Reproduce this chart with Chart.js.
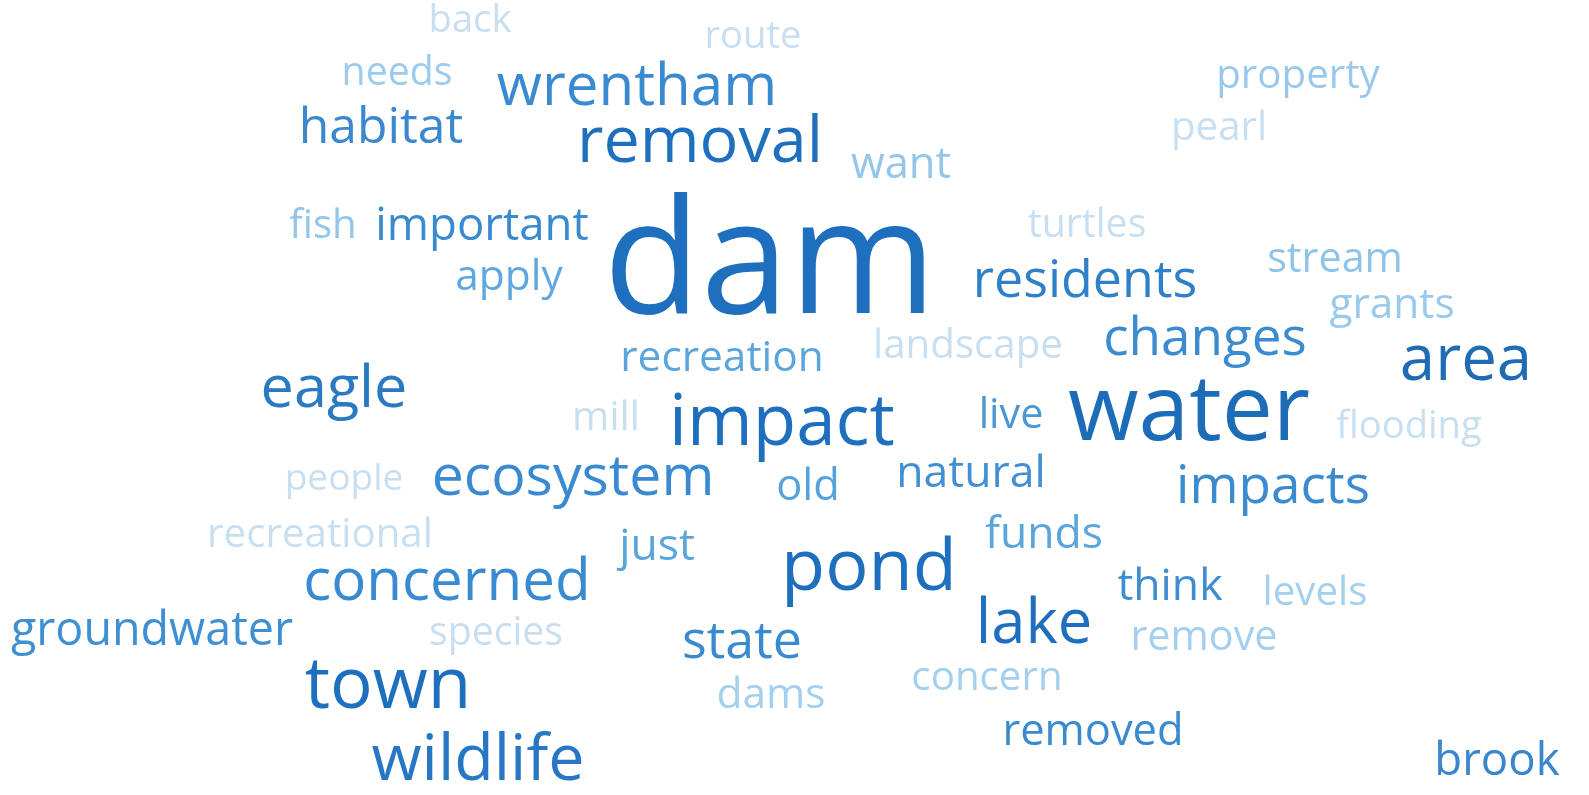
<!DOCTYPE html>
<html>
<head>
<meta charset="utf-8">
<script src="https://cdn.jsdelivr.net/npm/chart.js@4.4.1/dist/chart.umd.min.js"></script>
<style>
  html, body { margin: 0; padding: 0; background: #ffffff; }
  #wrap { width: 1589px; height: 795px; position: relative; }
</style>
</head>
<body>
<div id="wrap"><canvas id="graphic"></canvas></div>
<script>
// words and their weight (drives font size)
var words = ['back', 'route', 'needs', 'wrentham', 'property', 'habitat', 'removal', 'pearl', 'want',
  'fish', 'important', 'dam', 'turtles', 'apply', 'stream', 'residents', 'grants', 'changes', 'area',
  'recreation', 'landscape', 'eagle', 'impact', 'water', 'mill', 'live', 'flooding', 'ecosystem',
  'natural', 'old', 'impacts', 'people', 'recreational', 'just', 'funds', 'pond', 'concerned', 'think',
  'levels', 'groundwater', 'species', 'lake', 'remove', 'state', 'town', 'concern', 'dams', 'removed',
  'wildlife', 'brook'];
var weights = [36, 36, 37, 55, 38, 47, 61, 38, 41,
  38, 43, 150, 37, 40, 39, 49, 40, 50, 60,
  40, 38, 56, 67, 86, 38, 39, 36, 54,
  42, 41, 50, 35, 38, 42, 42, 68, 55, 42,
  38, 44, 37, 58, 39, 49, 67, 38, 40, 41,
  61, 43];

// cloud layout: word centre (x) and baseline (y)
var posX = [470, 753, 397, 637, 1298, 381, 700, 1219, 901,
  323, 482, 770, 1087, 509, 1335, 1085, 1392, 1205, 1466,
  722, 968, 334, 782, 1189, 606, 1011, 1409, 573,
  971, 808, 1273, 344, 320, 657, 1044, 869, 447, 1170,
  1315, 152, 496, 1034, 1204, 742, 388, 987, 771, 1093,
  478, 1497];
var posY = [32, 48, 85, 105, 88, 143, 162, 140, 178,
  238, 240, 313, 237, 290, 272, 297, 318, 355, 380,
  371, 358, 407, 445, 440, 430, 428, 438, 495,
  487, 500, 503, 490, 547, 560, 548, 590, 600, 600,
  605, 645, 645, 643, 650, 658, 708, 690, 708, 745,
  780, 775];

var colors = ['#c8dff2', '#c8dff2', '#9ccbee', '#3a8ad2', '#99c9ea', '#3a89cf', '#1f6fbf', '#c8dff2', '#93c6ea',
  '#93c6ea', '#3a8ad0', '#1f6fbf', '#c8dff2', '#5ea8df', '#8fc4e9', '#2f80c8', '#98caeb', '#3b8bd0', '#1f6cb5',
  '#5aa5dc', '#c8dff2', '#2a79c3', '#1f6fbf', '#1c6cb8', '#c8dff2', '#4b97d6', '#c8dff2', '#3a8ad2',
  '#4090d3', '#56a2dc', '#3b8bd0', '#c8dff2', '#c8dff2', '#5aa5dc', '#5aa5dc', '#1f6fbf', '#3a8ad2', '#3f8dcf',
  '#a3d0ee', '#3f8fd3', '#c8dff2', '#1f6fbf', '#a3d0ee', '#3a8ad0', '#1f6fbf', '#a3d0ee', '#a3d0ee', '#3a8ad0',
  '#2777c4', '#3a86cc'];

var pxPerWeight = 1.06;

var points = [];
for (var i = 0; i < words.length; i++) {
  points.push({ x: posX[i], y: posY[i] });
}

var wordPlugin = {
  id: 'wordText',
  afterDatasetsDraw: function (chart) {
    var c = chart.ctx;
    var meta = chart.getDatasetMeta(0);
    c.save();
    c.textAlign = 'center';
    c.textBaseline = 'alphabetic';
    meta.data.forEach(function (pt, idx) {
      c.font = '400 ' + (weights[idx] * pxPerWeight) + 'px "Open Sans"';
      c.fillStyle = colors[idx];
      c.fillText(words[idx], pt.x, pt.y);
    });
    c.restore();
  }
};

var chartGraph = new Chart(document.getElementById('graphic'), {
  type: 'scatter',
  data: {
    datasets: [{
      label: 'words',
      data: points,
      pointRadius: 0,
      pointHoverRadius: 0
    }]
  },
  options: {
    responsive: true,
    maintainAspectRatio: false,
    animation: false,
    layout: { padding: 0 },
    plugins: { legend: { display: false }, tooltip: { enabled: false } },
    scales: {
      x: { type: 'linear', min: 0, max: 1589, display: false },
      y: { type: 'linear', min: 0, max: 795, reverse: true, display: false }
    }
  },
  plugins: [wordPlugin]
});
</script>
</body>
</html>
